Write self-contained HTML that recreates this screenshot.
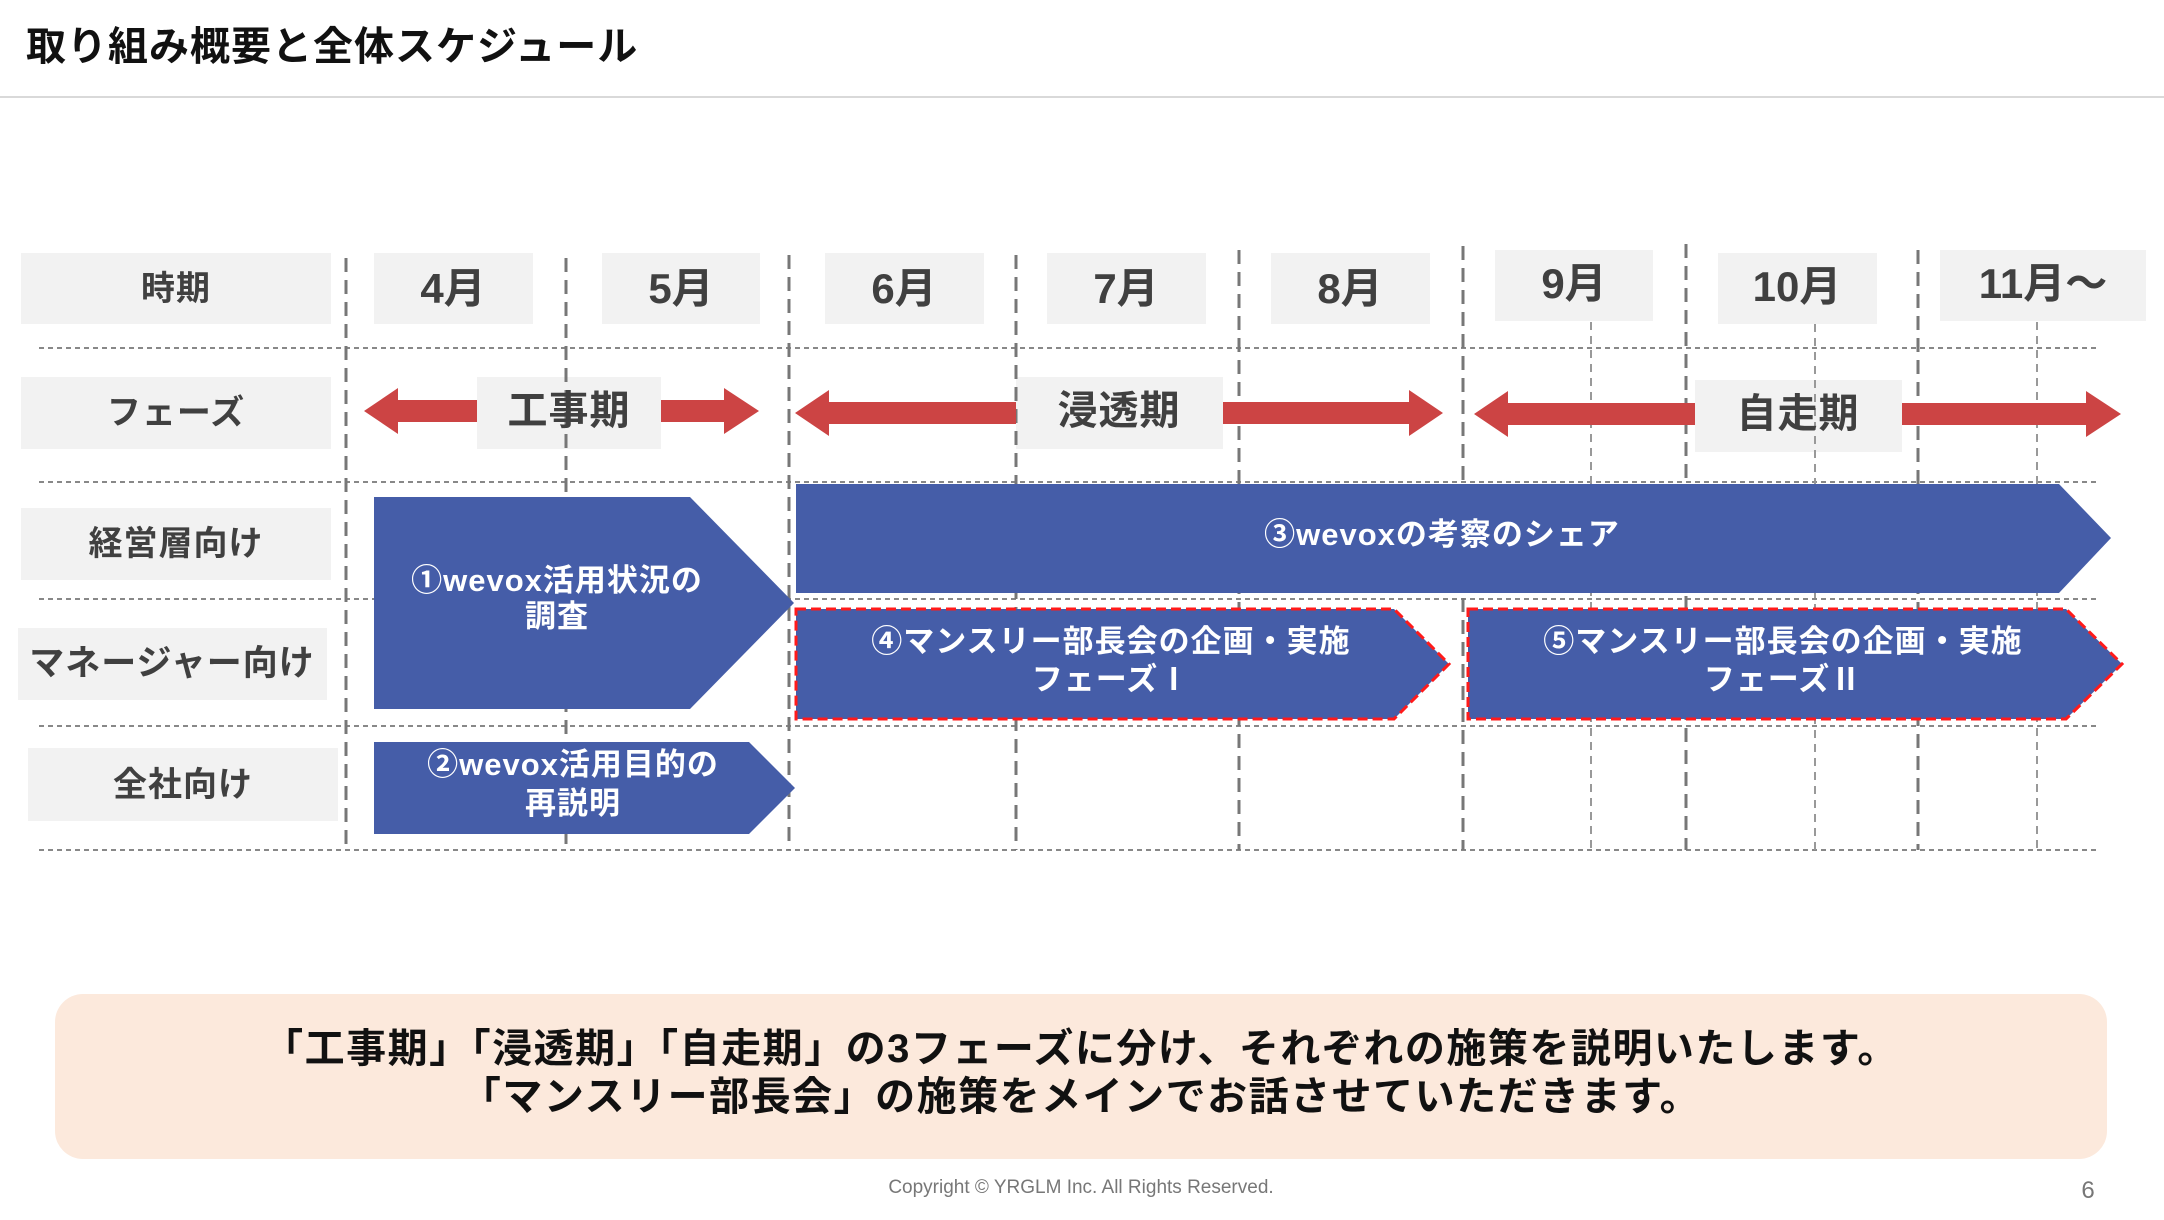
<!DOCTYPE html>
<html><head><meta charset="utf-8"><style>
html,body{margin:0;padding:0;background:#fff;}
svg{display:block;font-family:"Liberation Sans","Noto Sans CJK JP",sans-serif;font-weight:bold;}
</style></head><body>
<svg width="2164" height="1220" viewBox="0 0 2164 1220" xmlns="http://www.w3.org/2000/svg">
<text x="26" y="60" font-size="40" letter-spacing="1" fill="#111">取り組み概要と全体スケジュール</text>
<line x1="0" y1="97" x2="2164" y2="97" stroke="#d9d9d9" stroke-width="2"/>
<g fill="#f2f2f2">
<rect x="21" y="253" width="310" height="71"/>
<rect x="374" y="253" width="159" height="71"/>
<rect x="602" y="253" width="158" height="71"/>
<rect x="825" y="253" width="159" height="71"/>
<rect x="1047" y="253" width="159" height="71"/>
<rect x="1271" y="253" width="159" height="71"/>
<rect x="1495" y="250" width="158" height="71"/>
<rect x="1718" y="253" width="159" height="71"/>
<rect x="1940" y="250" width="206" height="71"/>
<rect x="21" y="377" width="310" height="72"/>
<rect x="477" y="377" width="184" height="72"/>
<rect x="1016" y="377" width="207" height="72"/>
<rect x="1695" y="380" width="207" height="72"/>
<rect x="21" y="508" width="310" height="72"/>
<rect x="18" y="628" width="309" height="72"/>
<rect x="28" y="748" width="310" height="73"/>
</g>
<g stroke="#888" stroke-width="2" stroke-dasharray="5,4" fill="none">
<line x1="39" y1="348" x2="2100" y2="348"/>
<line x1="39" y1="482" x2="2100" y2="482"/>
<line x1="39" y1="599" x2="2100" y2="599"/>
<line x1="39" y1="726" x2="2100" y2="726"/>
<line x1="39" y1="850" x2="2100" y2="850"/>
</g>
<g stroke="#777" stroke-width="3" stroke-dasharray="14,8" fill="none">
<line x1="346" y1="258" x2="346" y2="850"/>
<line x1="566" y1="258" x2="566" y2="850"/>
<line x1="789" y1="255" x2="789" y2="850"/>
<line x1="1016" y1="255" x2="1016" y2="850"/>
<line x1="1239" y1="250" x2="1239" y2="850"/>
<line x1="1463" y1="246" x2="1463" y2="850"/>
<line x1="1686" y1="244" x2="1686" y2="850"/>
<line x1="1918" y1="250" x2="1918" y2="850"/>
</g>
<g stroke="#999" stroke-width="2" stroke-dasharray="8,6" fill="none">
<line x1="1591" y1="322" x2="1591" y2="850"/>
<line x1="1815" y1="324" x2="1815" y2="850"/>
<line x1="2037" y1="322" x2="2037" y2="850"/>
</g>
<g fill="#404040" text-anchor="middle" font-size="34" letter-spacing="1">
<text x="176" y="300">時期</text>
<text x="176" y="424">フェーズ</text>
<text x="176" y="555">経営層向け</text>
<text x="172" y="675" font-size="35">マネージャー向け</text>
<text x="183" y="796">全社向け</text>
<text x="569" y="424" font-size="40">工事期</text>
<text x="1119" y="424" font-size="40">浸透期</text>
<text x="1798" y="427" font-size="40">自走期</text>
</g>
<g fill="#404040" text-anchor="middle" font-size="42">
<text x="453" y="303">4月</text>
<text x="681" y="303">5月</text>
<text x="904" y="303">6月</text>
<text x="1126" y="303">7月</text>
<text x="1350" y="303">8月</text>
<text x="1574" y="298">9月</text>
<text x="1797" y="301">10月</text>
<text x="2043" y="298">11月～</text>
</g>
<g fill="#cc4444">
<polygon points="364,411 398,388 398,400 477,400 477,422 398,422 398,434"/>
<polygon points="661,400 724,400 724,388 759,411 724,434 724,422 661,422"/>
<polygon points="795,413 829,390 829,402 1016,402 1016,424 829,424 829,436"/>
<polygon points="1223,402 1409,402 1409,390 1443,413 1409,436 1409,424 1223,424"/>
<polygon points="1474,414 1508,391 1508,403 1695,403 1695,425 1508,425 1508,437"/>
<polygon points="1902,403 2086,403 2086,391 2121,414 2086,437 2086,425 1902,425"/>
</g>
<g fill="#455da8">
<polygon points="374,497 690,497 794,603 690,709 374,709"/>
<polygon points="796,484 2059,484 2111,538 2059,593 796,593"/>
<polygon points="374,742 749,742 795,788 749,834 374,834"/>
</g>
<g fill="#455da8" stroke="#ff1a1a" stroke-width="3" stroke-dasharray="10,5">
<polygon points="796,609 1394,609 1449,664 1394,719 796,719"/>
<polygon points="1468,609 2066,609 2122,664 2066,719 1468,719"/>
</g>
<g fill="#fff" text-anchor="middle" font-size="31" letter-spacing="1">
<text x="557" y="591">①wevox活用状況の</text>
<text x="557" y="627">調査</text>
<text x="1442" y="545">③wevoxの考察のシェア</text>
<text x="1111" y="652">④マンスリー部長会の企画・実施</text>
<text x="1111" y="690">フェーズⅠ</text>
<text x="1783" y="652">⑤マンスリー部長会の企画・実施</text>
<text x="1783" y="690">フェーズⅡ</text>
<text x="573" y="775">②wevox活用目的の</text>
<text x="573" y="814">再説明</text>
</g>
<rect x="55" y="994" width="2052" height="165" rx="28" fill="#fce9dc"/>
<g fill="#111" text-anchor="middle" font-size="40" letter-spacing="1.5">
<text x="1081" y="1062">「工事期」「浸透期」「自走期」の3フェーズに分け、それぞれの施策を説明いたします。</text>
<text x="1081" y="1110">「マンスリー部長会」の施策をメインでお話させていただきます。</text>
</g>
<text x="1081" y="1193" text-anchor="middle" font-size="19" font-weight="normal" fill="#777">Copyright © YRGLM Inc. All Rights Reserved.</text>
<text x="2088" y="1198" text-anchor="middle" font-size="24" font-weight="normal" fill="#777">6</text>
</svg>
</body></html>
